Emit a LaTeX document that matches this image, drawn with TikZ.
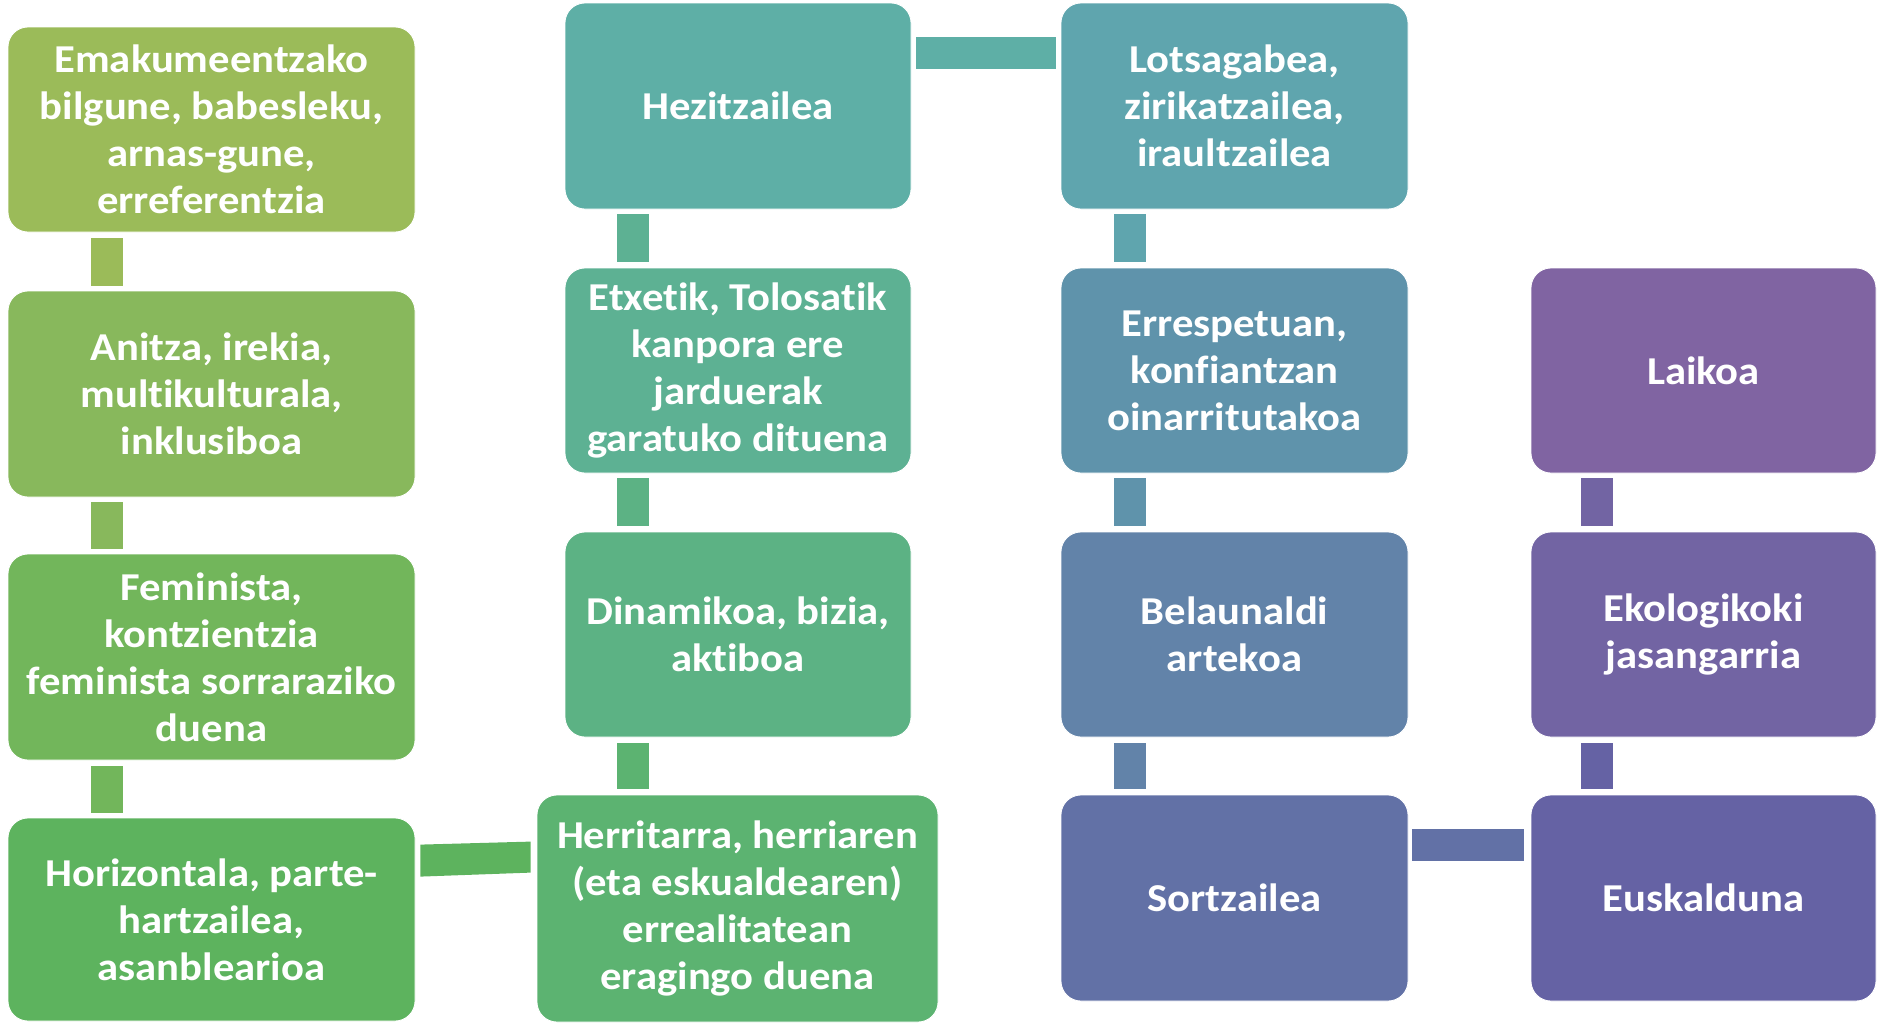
\documentclass[tikz,border=0pt]{standalone}
\usepackage{fontspec}
\setmainfont{Carlito}[FakeStretch=1.08, Ligatures={NoCommon}]
\usetikzlibrary{calc}
\definecolor{cA1}{HTML}{9BBB59}
\definecolor{cA2}{HTML}{88B85C}
\definecolor{cA3}{HTML}{72B65B}
\definecolor{cA4}{HTML}{5DB35E}
\definecolor{cB4}{HTML}{5CB371}
\definecolor{cB3}{HTML}{5CB284}
\definecolor{cB2}{HTML}{5DB193}
\definecolor{cB1}{HTML}{5EAFA6}
\definecolor{cC1}{HTML}{5FA5AE}
\definecolor{cC2}{HTML}{5F93AB}
\definecolor{cC3}{HTML}{6283A9}
\definecolor{cC4}{HTML}{6271A6}
\definecolor{cD4}{HTML}{6562A4}
\definecolor{cD3}{HTML}{7264A3}
\definecolor{cD2}{HTML}{8064A2}
\tikzset{
  card/.style={rectangle, rounded corners=20pt, draw=white, line width=0.8pt,
    text=white, align=center, inner sep=0pt,
    font=\fontsize{39.5}{47}\selectfont\bfseries},
}
\begin{document}
\begin{tikzpicture}[x=1pt,y=-1pt]
\useasboundingbox (0,0) rectangle (1877,1023);
% column A
\node[card, fill=cA1, minimum width=407, minimum height=205] (A1) at (211.5,129.5) {Emakumeentzako\\bilgune, babesleku,\\arnas-gune,\\erreferentzia};
\node[card, fill=cA2, minimum width=407, minimum height=206] (A2) at (211.5,394) {Anitza, irekia,\\multikulturala,\\inklusiboa};
\node[card, fill=cA3, minimum width=407, minimum height=206] (A3) at (211.5,657) {Feminista,\\kontzientzia\\feminista sorraraziko\\duena};
\node[card, fill=cA4, minimum width=407, minimum height=203] (A4) at (211.5,919.5) {Horizontala, parte-\\hartzailea,\\asanblearioa};
% column B
\node[card, fill=cB1, minimum width=346, minimum height=206] (B1) at (738,106) {Hezitzailea};
\node[card, fill=cB2, minimum width=346, minimum height=205] (B2) at (738,370.5) {Etxetik, Tolosatik\\kanpora ere\\jarduerak\\garatuko dituena};
\node[card, fill=cB3, minimum width=346, minimum height=205] (B3) at (738,634.5) {Dinamikoa, bizia,\\aktiboa};
\node[card, fill=cB4, minimum width=401, minimum height=227] (B4) at (737.5,908.5) {Herritarra, herriaren\\(eta eskualdearen)\\errealitatean\\eragingo duena};
% column C
\node[card, fill=cC1, minimum width=347, minimum height=206] (C1) at (1234.5,106) {Lotsagabea,\\zirikatzailea,\\iraultzailea};
\node[card, fill=cC2, minimum width=347, minimum height=205] (C2) at (1234.5,370.5) {Errespetuan,\\konfiantzan\\oinarritutakoa};
\node[card, fill=cC3, minimum width=347, minimum height=205] (C3) at (1234.5,634.5) {Belaunaldi\\artekoa};
\node[card, fill=cC4, minimum width=347, minimum height=206] (C4) at (1234.5,898) {Sortzailea};
% column D
\node[card, fill=cD2, minimum width=345, minimum height=205] (D2) at (1703.5,370.5) {Laikoa};
\node[card, fill=cD3, minimum width=345, minimum height=205] (D3) at (1703.5,634.5) {Ekologikoki\\jasangarria};
\node[card, fill=cD4, minimum width=345, minimum height=206] (D4) at (1703.5,898) {Euskalduna};
% connectors
\fill[cA1] ($(A1.south west)+(83,6)$) rectangle ($(A2.north west)+(115,-5)$);
\fill[cA2] ($(A2.south west)+(83,5)$) rectangle ($(A3.north west)+(115,-5)$);
\fill[cA3] ($(A3.south west)+(83,6)$) rectangle ($(A4.north west)+(115,-5)$);
\fill[cA4] ($(A4.north east)+(5,27)$) -- ($(B4.north west)+(-6,47)$) -- ($(B4.north west)+(-6,78)$) -- ($(A4.north east)+(5,59)$) -- cycle;
\fill[cB4] ($(B3.south west)+(52,6)$) rectangle ($(B4.north west)+(112,-6)$);
\fill[cB3] ($(B2.south west)+(52,5)$) rectangle ($(B3.north west)+(84,-6)$);
\fill[cB2] ($(B1.south west)+(52,5)$) rectangle ($(B2.north west)+(84,-6)$);
\fill[cB1] ($(B1.north east)+(5,34)$) rectangle ($(C1.north west)+(-5,66)$);
\fill[cC1] ($(C1.south west)+(53,5)$) rectangle ($(C2.north west)+(85,-6)$);
\fill[cC2] ($(C2.south west)+(53,5)$) rectangle ($(C3.north west)+(85,-6)$);
\fill[cC3] ($(C3.south west)+(53,6)$) rectangle ($(C4.north west)+(85,-6)$);
\fill[cC4] ($(C4.north east)+(4,34)$) rectangle ($(D4.north west)+(-7,66)$);
\fill[cD4] ($(D3.south west)+(50,6)$) rectangle ($(D4.north west)+(82,-6)$);
\fill[cD3] ($(D2.south west)+(50,5)$) rectangle ($(D3.north west)+(82,-6)$);
\end{tikzpicture}
\end{document}
